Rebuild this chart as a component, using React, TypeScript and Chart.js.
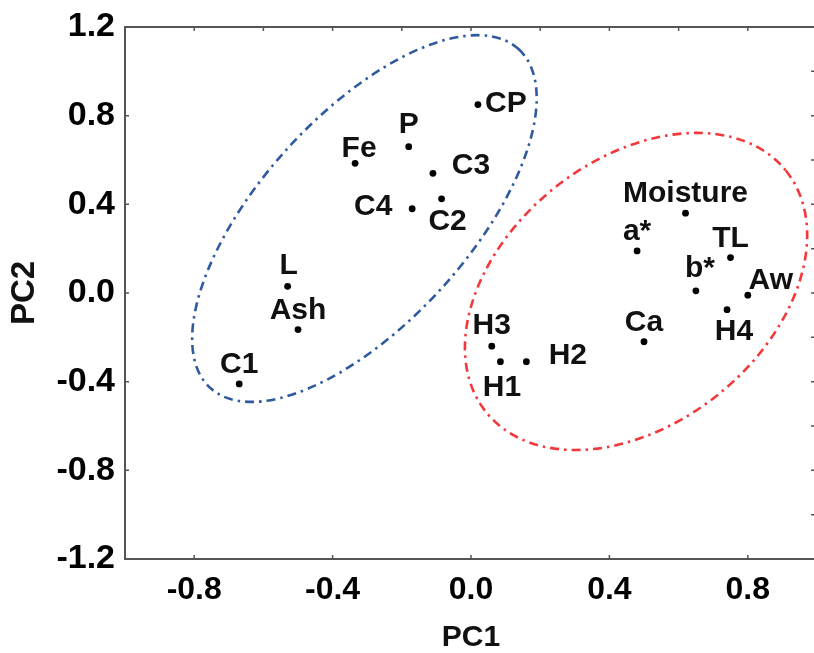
import React, { useEffect, useRef } from "react";
import { Chart, registerables } from "chart.js";

Chart.register(...registerables);

// ---- data ----
const names = ["CP", "P", "Fe", "C3", "C2", "C4", "L", "Ash", "C1", "H3", "H1", "H2", "Moisture", "a*", "TL", "b*", "Aw", "H4", "Ca"];
const pc1 = [0.02, -0.18, -0.335, -0.11, -0.085, -0.17, -0.53, -0.5, -0.67, 0.06, 0.085, 0.16, 0.62, 0.48, 0.75, 0.65, 0.8, 0.74, 0.5];
const pc2 = [0.85, 0.66, 0.585, 0.54, 0.425, 0.38, 0.03, -0.165, -0.41, -0.24, -0.31, -0.31, 0.36, 0.19, 0.16, 0.01, -0.01, -0.075, -0.22];

const xTickValues = [-0.8, -0.4, 0, 0.4, 0.8];
const yTickValues = [-1.2, -0.8, -0.4, 0, 0.4, 0.8, 1.2];
const topTickValues = [-0.8, -0.6, -0.4, -0.2, 0, 0.2, 0.4, 0.6, 0.8];
const rightTickValues = [-1.0, -0.8, -0.6, -0.4, -0.2, 0, 0.2, 0.4, 0.6, 0.8, 1.0];

// group ellipses (center and semi-axis vectors in PC units)
const ellipseColors = ["#2f5b9e", "#f2383a"];
const ellipseCenterX = [-0.308, 0.477];
const ellipseCenterY = [0.336, 0.007];
const ellipseAxisU = [[0.4454, 0.7646], [0.4327, 0.5458]];
const ellipseAxisV = [[0.2225, -0.3157], [0.2396, -0.4623]];

// label placement (pixel offset of label centre from the point)
const labelDX = [28, 0, 4, 38, 6, -39, 1, 0, 0, 0, 1.5, 41.5, 0, 0, 0, 4, 23, 7, 0];
const labelDY = [-4, -25, -17, -10, 20, -5, -23, -22, -22, -23.5, 23, -9, -22.7, -22, -22, -24.5, -17, 19, -22];

const FONT = "'Liberation Sans', Arial, Helvetica, sans-serif";

const decorPlugin = {
  id: "decor",
  beforeDatasetsDraw(chart: any) {
    const { ctx } = chart;
    const xs = chart.scales.x;
    const ys = chart.scales.y;
    for (let i = 0; i < ellipseColors.length; i++) {
      const cx = xs.getPixelForValue(ellipseCenterX[i]);
      const cy = ys.getPixelForValue(ellipseCenterY[i]);
      const ux = xs.getPixelForValue(ellipseCenterX[i] + ellipseAxisU[i][0]) - cx;
      const uy = ys.getPixelForValue(ellipseCenterY[i] + ellipseAxisU[i][1]) - cy;
      const vx = xs.getPixelForValue(ellipseCenterX[i] + ellipseAxisV[i][0]) - cx;
      const vy = ys.getPixelForValue(ellipseCenterY[i] + ellipseAxisV[i][1]) - cy;
      ctx.save();
      ctx.beginPath();
      ctx.save();
      ctx.transform(ux, uy, vx, vy, cx, cy);
      ctx.arc(0, 0, 1, 0, Math.PI * 2);
      ctx.restore();
      ctx.setLineDash([9, 5, 2.5, 5]);
      ctx.lineWidth = 2.6;
      ctx.strokeStyle = ellipseColors[i];
      ctx.stroke();
      ctx.restore();
    }
  },
  afterDatasetsDraw(chart: any) {
    const { ctx, chartArea } = chart;
    const xs = chart.scales.x;
    const ys = chart.scales.y;
    const { left, right, top, bottom } = chartArea;
    ctx.save();
    ctx.strokeStyle = "#555";
    ctx.lineWidth = 2;
    ctx.setLineDash([]);
    ctx.beginPath();
    ctx.moveTo(left, top);
    ctx.lineTo(right, top);
    ctx.lineTo(right, bottom);
    ctx.lineTo(left, bottom);
    ctx.closePath();
    ctx.stroke();
    ctx.lineWidth = 1.5;
    ctx.beginPath();
    const tl = 4;
    for (const v of xTickValues) {
      const p = xs.getPixelForValue(v);
      ctx.moveTo(p, bottom);
      ctx.lineTo(p, bottom - tl);
    }
    for (const v of topTickValues) {
      const p = xs.getPixelForValue(v);
      ctx.moveTo(p, top);
      ctx.lineTo(p, top + tl);
    }
    for (const v of yTickValues) {
      const p = ys.getPixelForValue(v);
      ctx.moveTo(left, p);
      ctx.lineTo(left + tl, p);
    }
    for (const v of rightTickValues) {
      const p = ys.getPixelForValue(v);
      ctx.moveTo(right, p);
      ctx.lineTo(right - tl - 2, p);
    }
    ctx.stroke();

    ctx.fillStyle = "#111";
    ctx.font = `bold 30px ${FONT}`;
    ctx.textAlign = "center";
    ctx.textBaseline = "alphabetic";
    for (let i = 0; i < names.length; i++) {
      const px = xs.getPixelForValue(pc1[i]);
      const py = ys.getPixelForValue(pc2[i]);
      ctx.fillText(names[i], px + labelDX[i], py + labelDY[i] + 11);
    }
    ctx.restore();
  },
};

export default function App() {
  const ref = useRef<HTMLCanvasElement | null>(null);
  useEffect(() => {
    if (!ref.current) return;
    const points = pc1.map((x, i) => ({ x, y: pc2[i] }));
    const chart = new Chart(ref.current, {
      type: "scatter",
      data: {
        datasets: [
          {
            data: points,
            pointRadius: 3.4,
            pointBackgroundColor: "#000",
            pointBorderWidth: 0,
            pointHoverRadius: 3.4,
          },
        ],
      },
      options: {
        responsive: false,
        animation: false,
        devicePixelRatio: 1,
        layout: { padding: { top: 27, right: 13, left: 0, bottom: 0 } },
        plugins: { legend: { display: false }, tooltip: { enabled: false } },
        scales: {
          x: {
            type: "linear",
            min: -1,
            max: 1,
            grid: { display: false, drawTicks: false },
            border: { display: false },
            afterBuildTicks: (s: any) => {
              s.ticks = xTickValues.map((v) => ({ value: v }));
            },
            afterFit: (s: any) => {
              s.height = 94;
            },
            ticks: {
              autoSkip: false,
              maxRotation: 0,
              padding: 15,
              color: "#000",
              font: { family: FONT, size: 32, weight: "bold", lineHeight: 1 },
              callback: (v: any) => Number(v).toFixed(1),
            },
            title: {
              display: true,
              text: "PC1",
              color: "#111",
              font: { family: FONT, size: 30, weight: "bold", lineHeight: 1 },
              padding: { top: 0, bottom: 0 },
            },
          },
          y: {
            type: "linear",
            min: -1.2,
            max: 1.2,
            grid: { display: false, drawTicks: false },
            border: { display: false },
            afterBuildTicks: (s: any) => {
              s.ticks = yTickValues.map((v) => ({ value: v }));
            },
            afterFit: (s: any) => {
              s.width = 125;
            },
            ticks: {
              autoSkip: false,
              padding: 10,
              color: "#000",
              font: { family: FONT, size: 34, weight: "bold", lineHeight: 1 },
              callback: (v: any) => Number(v).toFixed(1),
            },
            title: {
              display: true,
              text: "PC2",
              color: "#111",
              font: { family: FONT, size: 33, weight: "bold", lineHeight: 1.2 },
              padding: { top: 5, bottom: 0 },
            },
          },
        },
      },
      plugins: [decorPlugin],
    } as any);
    return () => chart.destroy();
  }, []);

  return (
    <div
      style={{
        position: "fixed",
        left: 0,
        top: 0,
        width: 814,
        height: 653,
        overflow: "hidden",
        background: "#fff",
      }}
    >
      <canvas ref={ref} width={830} height={653} style={{ width: 830, height: 653, display: "block" }} />
    </div>
  );
}
